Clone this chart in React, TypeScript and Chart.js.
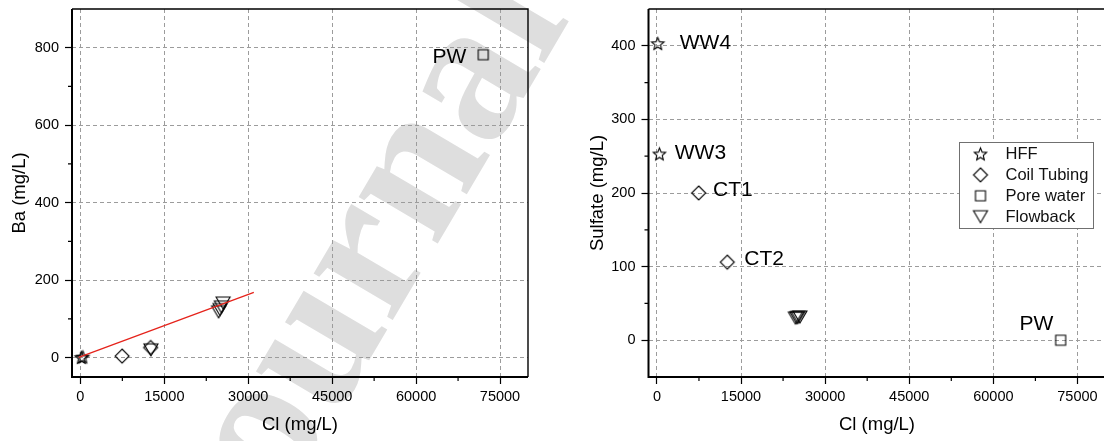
import { useEffect, useRef } from 'react';
import { Chart, registerables } from 'chart.js';

Chart.register(...registerables);

// ---- Data: chloride vs. barium / sulfate (mg/L) for each water type ----
const hffNames = ['WW4', 'WW3'];
const hffCl = [150, 450];
const hffBa = [0.5, 1.5];
const hffSulfate = [403, 253];

const coilNames = ['CT1', 'CT2'];
const coilCl = [7450, 12550];
const coilBa = [4, 26];
const coilSulfate = [200, 106];

const poreNames = ['PW'];
const poreCl = [72000];
const poreBa = [782];
const poreSulfate = [0];

const flowCl = [12600, 24700, 24950, 25200, 25500];
const flowBa = [20, 118, 124, 131, 141];
const flowSulfate: (number | null)[] = [null, 30, 30.5, 31, 31.5];

// Ba–Cl linear trend
const trendCl = [-300, 31000];
const trendBa = [0.5, 168.5];

const seriesNames = ['HFF', 'Coil Tubing', 'Pore water', 'Flowback'];

const clTicks = [0, 15000, 30000, 45000, 60000, 75000];
const clMinorTicks = [7500, 22500, 37500, 52500, 67500];
const baTicks = [0, 200, 400, 600, 800];
const baMinorTicks = [100, 300, 500, 700];
const sulfateTicks = [0, 100, 200, 300, 400];
const sulfateMinorTicks = [50, 150, 250, 350];

// ---- Styling ----
const SANS = '"Liberation Sans", Arial, sans-serif';
const INK = '#000';
const GRID = '#9c9c9c';

Chart.defaults.font.family = SANS;
Chart.defaults.color = '#000';

type Pt = { x: number; y: number };
const pairs = (xs: number[], ys: (number | null)[]): Pt[] =>
  xs
    .map((x, i) => ({ x, y: ys[i] as number }))
    .filter((p) => p.y !== null && p.y !== undefined);

// Open marker glyphs rendered once to small canvases
function makeMarker(shape: string, size: number): HTMLCanvasElement {
  const dim = Math.ceil(size) + 4;
  const c = document.createElement('canvas');
  c.width = dim;
  c.height = dim;
  const g = c.getContext('2d')!;
  g.translate(dim / 2, dim / 2);
  g.strokeStyle = INK;
  g.lineWidth = 1.1;
  g.lineJoin = 'miter';
  const r = size / 2;
  g.beginPath();
  if (shape === 'star') {
    for (let i = 0; i < 10; i++) {
      const a = -Math.PI / 2 + (i * Math.PI) / 5;
      const rr = i % 2 === 0 ? r : r * 0.45;
      const px = Math.cos(a) * rr;
      const py = Math.sin(a) * rr + r * 0.08;
      if (i === 0) g.moveTo(px, py);
      else g.lineTo(px, py);
    }
  } else if (shape === 'diamond') {
    g.moveTo(0, -r);
    g.lineTo(r, 0);
    g.lineTo(0, r);
    g.lineTo(-r, 0);
  } else if (shape === 'square') {
    g.rect(-r, -r, size, size);
  } else {
    const h = size * 0.86;
    g.moveTo(-r, -h / 2);
    g.lineTo(r, -h / 2);
    g.lineTo(0, h / 2);
  }
  g.closePath();
  g.stroke();
  return c;
}

// Large diagonal background text
const watermarkPlugin = {
  id: 'watermark',
  beforeDraw(chart: any, _args: any, opts: any) {
    const { ctx } = chart;
    ctx.save();
    ctx.translate(232 - opts.offsetX, 593);
    ctx.rotate((-59.5 * Math.PI) / 180);
    ctx.font = 'bold 200px "Liberation Serif", "Times New Roman", serif';
    ctx.fillStyle = '#dedede';
    ctx.textBaseline = 'alphabetic';
    ctx.fillText('Journal Pre-proof', 0, 0);
    ctx.restore();
  },
};

// Plot frame and minor tick marks
const framePlugin = {
  id: 'frame',
  afterDraw(chart: any, _args: any, opts: any) {
    const { ctx, chartArea } = chart;
    const { left, right, top, bottom } = chartArea;
    const xs = chart.scales.x;
    const ys = chart.scales.y;
    ctx.save();
    ctx.strokeStyle = '#000';
    ctx.lineWidth = 1.4;
    ctx.beginPath();
    ctx.moveTo(left, top);
    ctx.lineTo(right, top);
    ctx.lineTo(right, bottom);
    ctx.stroke();
    ctx.lineWidth = 2;
    ctx.beginPath();
    ctx.moveTo(left, top);
    ctx.lineTo(left, bottom);
    ctx.lineTo(right, bottom);
    ctx.stroke();
    ctx.lineWidth = 1.2;
    ctx.beginPath();
    for (const v of opts.xMinor) {
      const px = xs.getPixelForValue(v);
      ctx.moveTo(px, bottom);
      ctx.lineTo(px, bottom + 4);
    }
    for (const v of opts.yMinor) {
      const py = ys.getPixelForValue(v);
      ctx.moveTo(left - 4, py);
      ctx.lineTo(left, py);
    }
    ctx.stroke();
    ctx.restore();
  },
};

// Sample-name annotations next to points
const pointLabelPlugin = {
  id: 'pointLabels',
  afterDatasetsDraw(chart: any, _args: any, opts: any) {
    const { ctx } = chart;
    ctx.save();
    ctx.font = `21px ${SANS}`;
    ctx.fillStyle = '#000';
    ctx.textBaseline = 'alphabetic';
    for (const item of opts.items) {
      const el = chart.getDatasetMeta(item.ds).data[item.i];
      if (!el) continue;
      ctx.textAlign = item.align;
      ctx.fillText(item.text, el.x + item.dx, el.y + item.dy);
    }
    ctx.restore();
  },
};

// Boxed legend inside the plot area
const markerLegendPlugin = {
  id: 'markerLegend',
  afterDraw(chart: any, _args: any, opts: any) {
    if (!opts.display) return;
    const { ctx, chartArea } = chart;
    const x0 = Math.round(chartArea.left + opts.x) + 0.5;
    const y0 = Math.round(chartArea.top + opts.y) + 0.5;
    ctx.save();
    ctx.fillStyle = '#fff';
    ctx.fillRect(x0, y0, opts.width, opts.height);
    ctx.strokeStyle = '#707070';
    ctx.lineWidth = 1;
    ctx.strokeRect(x0, y0, opts.width, opts.height);
    ctx.font = `16.5px ${SANS}`;
    ctx.fillStyle = '#111';
    ctx.textBaseline = 'middle';
    ctx.textAlign = 'left';
    let row = 0;
    chart.data.datasets.forEach((ds: any) => {
      if (!ds.inLegend) return;
      const cy = y0 + 11.5 + row * 20.9;
      const img = ds.pointStyle as HTMLCanvasElement;
      ctx.drawImage(img, x0 + 21 - img.width / 2, cy - img.height / 2);
      ctx.fillText(ds.label, x0 + 46, cy + 0.5);
      row++;
    });
    ctx.restore();
  },
};

type LabelItem = { ds: number; i: number; text: string; dx: number; dy: number; align: string };

function buildOptions(p: {
  yTitle: string;
  yMin: number;
  yMax: number;
  yTicks: number[];
  yMinor: number[];
  axisWidth: number;
  padRight: number;
  titleGap: number;
  offsetX: number;
  labels: LabelItem[];
  legend: boolean;
}): any {
  return {
    responsive: false,
    animation: false,
    devicePixelRatio: 1,
    events: [],
    layout: { padding: { left: 0, top: 9, right: p.padRight, bottom: 0 } },
    plugins: {
      legend: { display: false },
      tooltip: { enabled: false },
      watermark: { offsetX: p.offsetX },
      frame: { xMinor: clMinorTicks, yMinor: p.yMinor },
      pointLabels: { items: p.labels },
      markerLegend: { display: p.legend, x: 310, y: 133, width: 134, height: 86 },
    },
    scales: {
      x: {
        type: 'linear',
        position: 'bottom',
        min: -1500,
        max: 80000,
        afterBuildTicks: (s: any) => {
          s.ticks = clTicks.map((value) => ({ value }));
        },
        afterFit: (s: any) => {
          s.height = 64;
          s.paddingLeft = 0;
          s.paddingRight = 0;
        },
        ticks: {
          autoSkip: false,
          maxRotation: 0,
          padding: 4,
          font: { size: 14.5 },
          color: '#000',
          callback: (v: any) => String(v),
        },
        grid: { color: GRID, lineWidth: 1, tickLength: 7, tickColor: '#000', tickWidth: 1.2 },
        border: { display: false, dash: [4, 3] },
        title: {
          display: true,
          text: 'Cl (mg/L)',
          font: { size: 18.5 },
          color: '#000',
          padding: { top: 0, bottom: 5 },
        },
      },
      y: {
        type: 'linear',
        position: 'left',
        min: p.yMin,
        max: p.yMax,
        afterBuildTicks: (s: any) => {
          s.ticks = p.yTicks.map((value) => ({ value }));
        },
        afterFit: (s: any) => {
          s.width = p.axisWidth;
          s.paddingTop = 0;
          s.paddingBottom = 0;
        },
        ticks: {
          padding: 6,
          font: { size: 14.5 },
          color: '#000',
          callback: (v: any) => String(v),
        },
        grid: { color: GRID, lineWidth: 1, tickLength: 7, tickColor: '#000', tickWidth: 1.2 },
        border: { display: false, dash: [4, 3] },
        title: {
          display: true,
          text: p.yTitle,
          font: { size: 18.5 },
          color: '#000',
          padding: { top: p.titleGap, bottom: 0 },
        },
      },
    },
  };
}

export default function App() {
  const leftRef = useRef<HTMLCanvasElement>(null);
  const rightRef = useRef<HTMLCanvasElement>(null);

  useEffect(() => {
    const star = makeMarker('star', 13);
    const diamond = makeMarker('diamond', 14);
    const square = makeMarker('square', 10);
    const triangle = makeMarker('triangleDown', 14);

    const series = (label: string, data: Pt[], style: HTMLCanvasElement) => ({
      label,
      data,
      pointStyle: style,
      pointRadius: 7,
      showLine: false,
      inLegend: true,
    });

    const left = new Chart(leftRef.current!, {
      type: 'scatter',
      data: {
        datasets: [
          {
            label: 'trend',
            data: pairs(trendCl, trendBa),
            showLine: true,
            borderColor: '#e5231b',
            borderWidth: 1.3,
            pointRadius: 0,
          } as any,
          series(seriesNames[0], pairs(hffCl, hffBa), star),
          series(seriesNames[1], pairs(coilCl, coilBa), diamond),
          series(seriesNames[2], pairs(poreCl, poreBa), square),
          series(seriesNames[3], pairs(flowCl, flowBa), triangle),
        ],
      },
      options: buildOptions({
        yTitle: 'Ba (mg/L)',
        yMin: -50,
        yMax: 900,
        yTicks: baTicks,
        yMinor: baMinorTicks,
        axisWidth: 72,
        padRight: 32,
        titleGap: 9.2,
        offsetX: 0,
        labels: [{ ds: 3, i: 0, text: poreNames[0], dx: -17, dy: 8.3, align: 'right' }],
        legend: false,
      }),
      plugins: [watermarkPlugin, framePlugin, pointLabelPlugin, markerLegendPlugin],
    } as any);

    const right = new Chart(rightRef.current!, {
      type: 'scatter',
      data: {
        datasets: [
          series(seriesNames[0], pairs(hffCl, hffSulfate), star),
          series(seriesNames[1], pairs(coilCl, coilSulfate), diamond),
          series(seriesNames[2], pairs(poreCl, poreSulfate), square),
          series(seriesNames[3], pairs(flowCl, flowSulfate), triangle),
        ],
      },
      options: buildOptions({
        yTitle: 'Sulfate (mg/L)',
        yMin: -50,
        yMax: 450,
        yTicks: sulfateTicks,
        yMinor: sulfateMinorTicks,
        axisWidth: 88.5,
        padRight: 14.5,
        titleGap: 26.7,
        offsetX: 560,
        labels: [
          { ds: 0, i: 0, text: hffNames[0], dx: 22, dy: 5.6, align: 'left' },
          { ds: 0, i: 1, text: hffNames[1], dx: 15.3, dy: 5, align: 'left' },
          { ds: 1, i: 0, text: coilNames[0], dx: 14.4, dy: 3.4, align: 'left' },
          { ds: 1, i: 1, text: coilNames[1], dx: 17, dy: 2.7, align: 'left' },
          { ds: 2, i: 0, text: poreNames[0], dx: -7.4, dy: -10, align: 'right' },
        ],
        legend: true,
      }),
      plugins: [watermarkPlugin, framePlugin, pointLabelPlugin, markerLegendPlugin],
    } as any);

    return () => {
      left.destroy();
      right.destroy();
    };
  }, []);

  return (
    <div
      style={{
        position: 'absolute',
        left: 0,
        top: 0,
        width: 1104,
        height: 441,
        overflow: 'hidden',
        background: '#fff',
      }}
    >
      <canvas ref={leftRef} width={560} height={441} style={{ position: 'absolute', left: 0, top: 0 }} />
      <canvas ref={rightRef} width={560} height={441} style={{ position: 'absolute', left: 560, top: 0 }} />
    </div>
  );
}
